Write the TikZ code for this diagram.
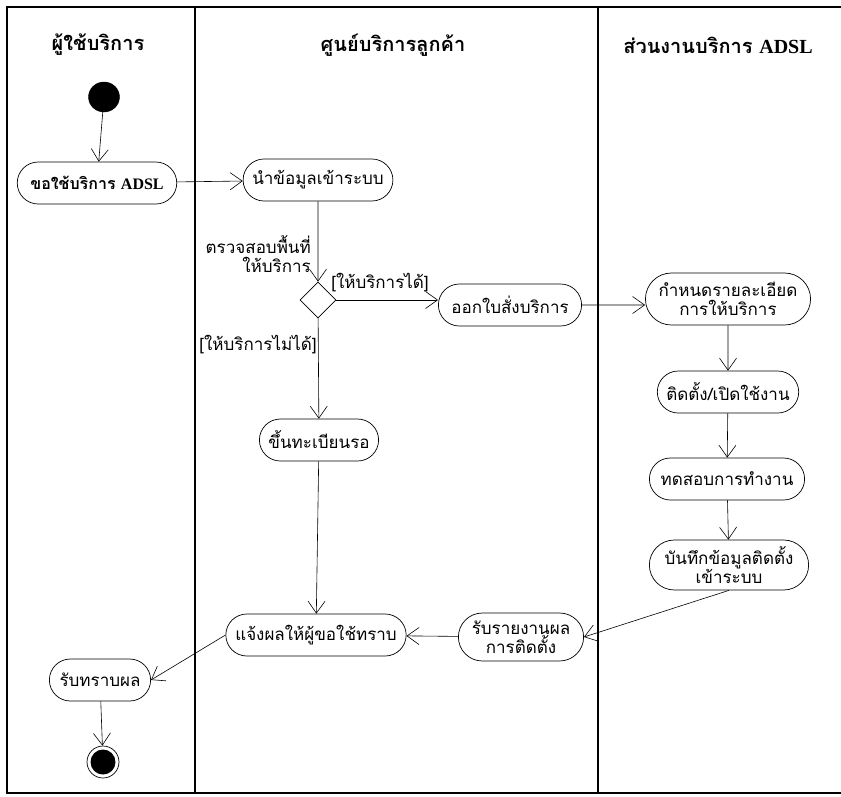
\documentclass[tikz,border=0pt]{standalone}
\usepackage{fontspec}
\usetikzlibrary{arrows.meta,shapes.geometric,shapes.misc}
\newfontfamily\thai[Script=Thai]{Loma}
\newfontfamily\lserif{Liberation Serif}
\tikzset{
  act/.style={draw, line width=0.7pt, rounded rectangle, minimum height=42pt, inner xsep=7pt, inner ysep=3pt, align=center, font=\thai\fontsize{17}{19}\selectfont},
  hdr/.style={font=\thai\bfseries\fontsize{20}{22}\selectfont},
  lbl/.style={font=\thai\fontsize{17}{19}\selectfont, inner sep=1pt},
  flow/.style={line width=0.6pt, -{Straight Barb[length=12pt,width=17pt,line width=0.6pt]}},
  lane/.style={line width=1.4pt}
}
\begin{document}
\begin{tikzpicture}[x=1pt,y=-1pt]
\useasboundingbox (0,0) rectangle (841,796);
% frame
\draw[lane] (841,7) -- (7,7) -- (7,793) -- (841,793);
\draw[lane] (195,7) -- (195,793);
\draw[lane] (598,7) -- (598,793);
% headers
\node[hdr] (h1) at (98,45) {ผู้ใช้บริการ};
\node[hdr] (h2) at (393,45) {ศูนย์บริการลูกค้า};
\node[hdr] (h3) at (718,45) {ส่วนงานบริการ {\lserif\bfseries ADSL}};
% start / end
\node[draw, fill=black, ellipse, minimum width=31pt, minimum height=30pt, inner sep=0pt] (start) at (104,97) {};
\node[draw, circle, minimum size=32pt, inner sep=0pt, line width=0.7pt] (end) at (103,762) {};
\fill (end.center) circle (12.5pt);
% activities
\node[act, inner xsep=12pt, font=\thai\bfseries\fontsize{16}{18}\selectfont] (req) at (97,183) {ขอใช้บริการ {\lserif\bfseries ADSL}};
\node[act] (enter) at (318,180) {นำข้อมูลเข้าระบบ};
\node[draw, diamond, minimum width=36pt, minimum height=36pt, inner sep=0pt, line width=0.7pt] (dec) at (318,300) {};
\node[act, inner xsep=11pt] (order) at (510,305) {ออกใบสั่งบริการ};
\node[act, minimum height=52pt] (detail) at (728,299) {กำหนดรายละเอียด\\การให้บริการ};
\node[act] (install) at (728,392) {ติดตั้ง/เปิดใช้งาน};
\node[act, inner xsep=10pt] (test) at (727,479) {ทดสอบการทำงาน};
\node[act, minimum height=50pt] (rec) at (729,565) {บันทึกข้อมูลติดตั้ง\\เข้าระบบ};
\node[act] (wait) at (319,440) {ขึ้นทะเบียนรอ};
\node[act, minimum height=48pt] (report) at (521,637) {รับรายงานผล\\การติดตั้ง};
\node[act] (notify) at (316,635) {แจ้งผลให้ผู้ขอใช้ทราบ};
\node[act, inner xsep=9pt] (ack) at (100,680) {รับทราบผล};
% labels
\node[lbl, align=right, anchor=east] (chk) at (312,254) {ตรวจสอบพื้นที่\\ให้บริการ};
\node[lbl] (yes) at (380,283) {[ให้บริการได้]};
\node[lbl] (no) at (258,345) {[ให้บริการไม่ได้]};
% flows
\draw[flow] (start) -- (req);
\draw[flow] (req) -- (enter);
\draw[flow] (enter) -- (dec);
\draw[flow] (dec) -- (dec -| order.west);
\draw[flow] (dec) -- (wait);
\draw[flow] (order) -- (order -| detail.west);
\draw[flow] (detail) -- (install);
\draw[flow] (install) -- (test);
\draw[flow] (test) -- (rec);
\draw[flow] (rec.south) -- (report.east);
\draw[flow] (wait) -- (notify);
\draw[flow] (report) -- (notify);
\draw[flow] (notify.west) -- (ack.east);
\draw[flow] (ack) -- (end);
\end{tikzpicture}
\end{document}
